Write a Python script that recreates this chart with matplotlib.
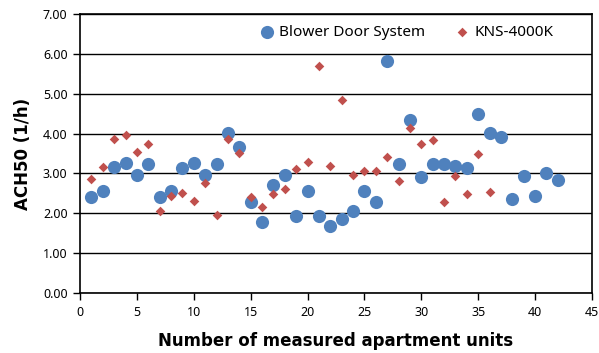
"""
ACH50 comparison: blower door system vs KNS-4000K
"""

import matplotlib

matplotlib.use("Agg")
import matplotlib.pyplot as plt
from matplotlib.ticker import FormatStrFormatter

unit_blower = list(range(1, 43))
ach_blower = [
    2.40, 2.55, 3.15, 3.25, 2.97, 3.23, 2.40, 2.55, 3.14, 3.25,
    2.97, 3.23, 4.01, 3.67, 2.29, 1.77, 2.71, 2.95, 1.93, 2.55,
    1.93, 1.68, 1.86, 2.05, 2.55, 2.28, 5.83, 3.23, 4.35, 2.92,
    3.23, 3.23, 3.19, 3.14, 4.49, 4.01, 3.91, 2.35, 2.93, 2.43,
    3.00, 2.83,
]

unit_kns = list(range(1, 37))
ach_kns = [
    2.86, 3.16, 3.87, 3.97, 3.53, 3.75, 2.05, 2.44, 2.50, 2.30,
    2.76, 1.95, 3.87, 3.51, 2.42, 2.15, 2.49, 2.61, 3.12, 3.28,
    5.70, 3.19, 4.84, 2.97, 3.07, 3.05, 3.40, 2.80, 4.13, 3.74,
    3.84, 2.28, 2.93, 2.49, 3.48, 2.54,
]

BLUE = "#4f81bd"
RED = "#c0504d"

plt.rcParams["font.family"] = ["Noto Sans", "DejaVu Sans"]

fig = plt.figure(figsize=(5.99, 3.53), dpi=100)
ax = fig.add_axes([80 / 599, 1 - 293 / 353, 512 / 599, 279 / 353])

ax.scatter(unit_blower, ach_blower, s=90, color=BLUE, marker="o",
           linewidths=0, label="Blower Door System", zorder=3)
ax.scatter(unit_kns, ach_kns, s=24, color=RED, marker="D",
           linewidths=0, label="KNS-4000K", zorder=4)

ax.set_xlim(0, 45)
ax.set_ylim(0, 7)
ax.set_xticks(range(0, 46, 5))
ax.set_yticks([i for i in range(0, 8)])
ax.yaxis.set_major_formatter(FormatStrFormatter("%.2f"))

# gridlines
ax.grid(axis="y", color="black", linewidth=1.0)
ax.set_axisbelow(True)

for sp in ax.spines.values():
    sp.set_linewidth(1.2)
    sp.set_color("black")

ax.tick_params(direction="out", length=5, width=1, labelsize=9, pad=4)

ax.set_xlabel("Number of measured apartment units", fontsize=12,
              fontweight="bold", family="DejaVu Sans", labelpad=10)
ax.set_ylabel("ACH50 (1/h)", fontsize=12, fontweight="bold",
              family="DejaVu Sans", labelpad=8)

ax.legend(loc="upper center", bbox_to_anchor=(0.63, 1.0), ncol=2,
          frameon=True, fancybox=False, edgecolor="none", facecolor="white",
          framealpha=1, fontsize=11, handletextpad=-0.2, columnspacing=1.4,
          borderaxespad=0.3)

plt.savefig("out.png", dpi=100)
